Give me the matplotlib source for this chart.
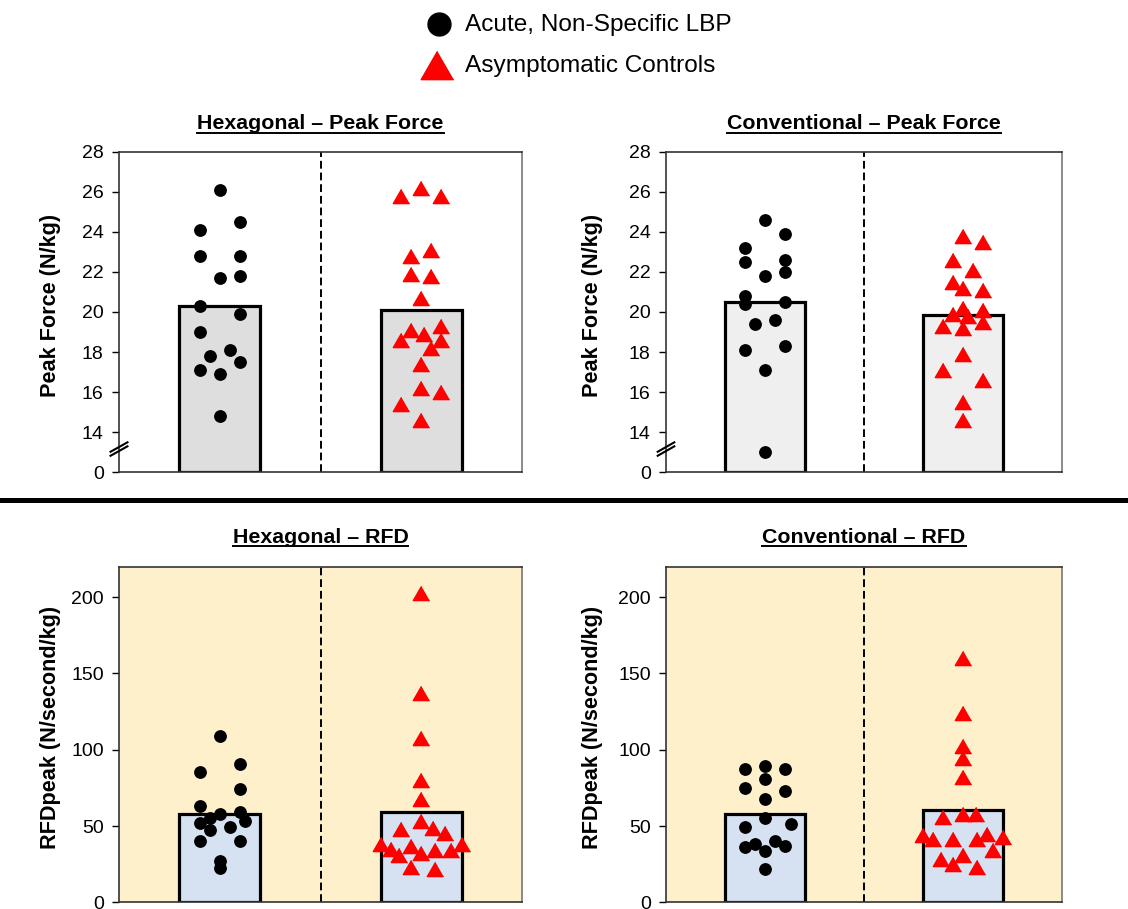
import numpy as np
import matplotlib
matplotlib.use("Agg")
import matplotlib.pyplot as plt
from matplotlib.lines import Line2D

plt.rcParams['font.family'] = ['Liberation Sans', 'DejaVu Sans']

# ---- data ----
groups = ["Acute, Non-Specific LBP", "Asymptomatic Controls"]
titles = ["Hexagonal \u2013 Peak Force", "Conventional \u2013 Peak Force",
          "Hexagonal \u2013 RFD", "Conventional \u2013 RFD"]

hex_pf_mean = [20.3, 20.1]
hex_pf_lbp = [26.1, 24.1, 24.5, 22.8, 22.8, 21.7, 21.8, 20.3, 19.9, 19.0, 18.1, 17.8, 17.5, 17.1, 16.9, 14.8]
hex_pf_ctrl = [25.8, 26.2, 25.8, 22.8, 23.1, 21.9, 21.8, 20.7, 19.1, 19.3, 18.6, 18.9, 18.6, 18.2, 17.4,
               16.2, 16.0, 15.4, 14.6]

conv_pf_mean = [20.5, 19.85]
conv_pf_lbp = [24.6, 23.9, 23.2, 22.5, 22.6, 21.8, 22.0, 20.8, 20.4, 20.5, 19.4, 19.6, 18.1, 18.3, 17.1, 13.0]
conv_pf_ctrl = [23.8, 23.5, 22.6, 22.1, 21.5, 21.2, 21.1, 20.2, 19.9, 19.8, 20.1, 19.5, 19.3, 19.2, 17.9,
                17.1, 16.6, 15.5, 14.6]

hex_rfd_mean = [58.0, 59.3]
hex_rfd_lbp = [109.3, 90.7, 85.5, 74.1, 63.1, 59.4, 57.9, 55.1, 52.2, 53.5, 47.4, 49.2, 40.2, 40.4, 27.0, 22.3]
hex_rfd_ctrl = [203.0, 137.5, 107.5, 80.2, 68.0, 53.5, 47.9, 48.9, 45.6, 38.2, 34.8, 31.0, 37.1, 32.5, 34.3,
                34.3, 38.0, 23.3, 21.6]

conv_rfd_mean = [58.0, 60.5]
conv_rfd_lbp = [89.4, 87.2, 87.2, 81.1, 74.7, 72.9, 67.5, 55.0, 49.3, 51.5, 36.1, 37.9, 40.5, 37.2, 33.5, 22.1]
conv_rfd_ctrl = [160.1, 124.4, 102.5, 94.4, 82.1, 55.9, 58.0, 58.0, 44.0, 41.2, 41.2, 41.2, 44.5, 42.9, 34.0,
                 28.5, 30.7, 25.2, 23.0]

# horizontal spread of the points around each bar centre (layout only)
hex_pf_lbp_dx = [0, -.1, .1, -.1, .1, 0, .1, -.1, .1, -.1, .05, -.05, .1, -.1, 0, 0]
hex_pf_ctrl_dx = [-.1, 0, .1, -.05, .05, -.05, .05, 0, -.05, .1, -.1, .015, .1, .05, 0, 0, .1, -.1, 0]
conv_pf_lbp_dx = [0, .1, -.1, -.1, .1, 0, .1, -.1, -.1, .1, -.05, .05, -.1, .1, 0, 0]
conv_pf_ctrl_dx = [0, .1, -.05, .05, -.05, 0, .1, 0, -.05, .025, .1, .1, -.1, 0, 0, -.1, .1, 0, 0]
hex_rfd_lbp_dx = [0, .1, -.1, .1, -.1, .1, 0, -.05, -.1, .125, -.05, .05, -.1, .1, 0, 0]
hex_rfd_ctrl_dx = [0, 0, 0, 0, 0, 0, -.1, .06, .12, -.2, -.15, -.11, -.05, 0, .07, .15, .2, -.05, .07]
conv_rfd_lbp_dx = [0, -.1, .1, 0, -.1, .1, 0, 0, -.1, .13, -.1, -.05, .05, .1, 0, 0]
conv_rfd_ctrl_dx = [0, 0, 0, 0, 0, -.1, 0, .065, -.2, -.15, -.05, .07, .12, .2, .15, -.11, 0, -.05, .07]

W, H = 1128, 909
fig = plt.figure(figsize=(W / 100, H / 100), dpi=100)
fig.patch.set_facecolor('white')

TRI = [(0, 0.866), (-1, -0.866), (1, -0.866)]


def add_ax(l, t, r, b):
    return fig.add_axes([l / W, 1 - b / H, (r - l) / W, (b - t) / H])


def brk(v):
    # axis is broken between 0 and 14: 14..28 drawn above one tick step
    return np.asarray(v, dtype=float) - 12.0


def panel(ax, means, lbp, lbp_dx, ctrl, ctrl_dx, bar_c, bg, ylabel, broken):
    ax.set_facecolor(bg)
    f = brk if broken else (lambda v: np.asarray(v, dtype=float))
    ax.bar([0.5, 1.5], f(means), width=0.4, color=bar_c, edgecolor='black', linewidth=2.3, zorder=2)
    ax.axvline(1.0, color='black', lw=1.4, ls=(0, (4, 2)), zorder=1)
    ax.plot(0.5 + np.array(lbp_dx), f(lbp), 'o', color='black', ms=8.2, ls='none', zorder=4)
    ax.plot(1.5 + np.array(ctrl_dx), f(ctrl), marker=TRI, color='#ff0000', mec='#ff0000',
            ms=11.8, ls='none', zorder=4)
    ax.set_xlim(0, 2)
    ax.set_xticks([])
    if broken:
        ax.set_ylim(0, 16)
        ax.set_yticks(np.arange(0, 17, 2))
        ax.set_yticklabels(['0'] + [str(v) for v in range(14, 29, 2)])
        tr = ax.get_yaxis_transform()
        for yc in (1.06, 1.26):
            ax.plot([-0.021, 0.021], [yc - 0.235, yc + 0.235], color='black', lw=1.5,
                    transform=tr, clip_on=False, zorder=5)
    else:
        ax.set_ylim(0, 220)
        ax.set_yticks([0, 50, 100, 150, 200])
    ax.tick_params(axis='y', direction='out', length=5, width=1, labelsize=14, pad=6)
    for s in ax.spines.values():
        s.set_color('#333333')
        s.set_linewidth(1.2)
    ax.spines['right'].set_color('#777777')
    ax.set_ylabel(ylabel, fontsize=15.6, fontweight='bold')
    ax.yaxis.set_label_coords(-0.144, 0.52)


ax1 = add_ax(119, 151.5, 522, 472.3)
panel(ax1, hex_pf_mean, hex_pf_lbp, hex_pf_lbp_dx, hex_pf_ctrl, hex_pf_ctrl_dx,
      '#dedede', 'white', 'Peak Force (N/kg)', True)
ax2 = add_ax(666, 151.5, 1062, 472.3)
panel(ax2, conv_pf_mean, conv_pf_lbp, conv_pf_lbp_dx, conv_pf_ctrl, conv_pf_ctrl_dx,
      '#efefef', 'white', 'Peak Force (N/kg)', True)
ax3 = add_ax(119, 566.7, 522, 902.3)
panel(ax3, hex_rfd_mean, hex_rfd_lbp, hex_rfd_lbp_dx, hex_rfd_ctrl, hex_rfd_ctrl_dx,
      '#d6e2f2', '#fff0cc', 'RFDpeak (N/second/kg)', False)
ax4 = add_ax(666, 566.7, 1062, 902.3)
panel(ax4, conv_rfd_mean, conv_rfd_lbp, conv_rfd_lbp_dx, conv_rfd_ctrl, conv_rfd_ctrl_dx,
      '#d6e2f2', '#fff0cc', 'RFDpeak (N/second/kg)', False)
ax2.yaxis.set_label_coords(-0.158, 0.52)
ax4.yaxis.set_label_coords(-0.158, 0.52)

# underlined panel titles
title_txt = []
for ax, t, yb in zip([ax1, ax2, ax3, ax4], titles, [129.3, 129.3, 542.7, 542.7]):
    bb = ax.get_position()
    xc = (bb.x0 + bb.x1) / 2
    title_txt.append(fig.text(xc, 1 - yb / H, t, ha='center', va='baseline',
                              fontsize=15.4, fontweight='bold'))
fig.canvas.draw()
rend = fig.canvas.get_renderer()
for tx in title_txt:
    e = tx.get_window_extent(rend)
    yline = tx.get_position()[1] - 3.4 / H
    fig.add_artist(Line2D([e.x0 / W, e.x1 / W], [yline, yline], color='black', lw=1.4,
                          transform=fig.transFigure))

# separator between the two rows
fig.add_artist(Line2D([0, 1], [1 - 500 / H, 1 - 500 / H], color='black', lw=3.6,
                      transform=fig.transFigure))

# legend
fig.add_artist(Line2D([439 / W], [1 - 24 / H], marker='o', color='black', ms=16.5,
                      ls='none', transform=fig.transFigure))
fig.add_artist(Line2D([437 / W], [1 - 65 / H], marker=TRI, color='#ff0000', ms=23.5,
                      ls='none', transform=fig.transFigure))
fig.text(465 / W, 1 - 25 / H, groups[0], fontsize=17.6, va='center', ha='left')
fig.text(465 / W, 1 - 66 / H, groups[1], fontsize=17.6, va='center', ha='left')

fig.savefig('out.png', dpi=100)
